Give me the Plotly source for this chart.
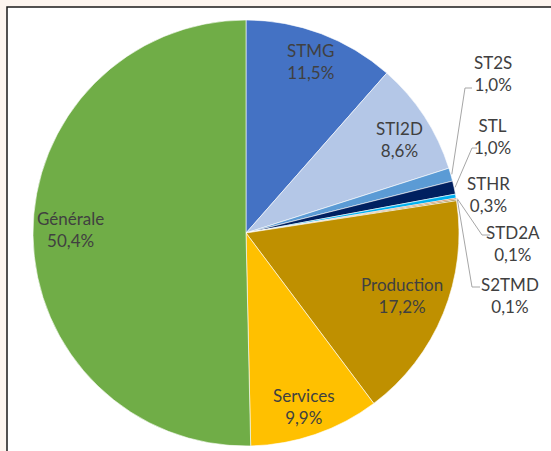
import math
import plotly.graph_objects as go

W, H = 551, 451

labels = ["STMG", "STI2D", "ST2S", "STL", "STHR", "STD2A", "S2TMD",
          "Production", "Services", "Générale"]
values = [11.5, 8.6, 1.0, 1.0, 0.3, 0.1, 0.1, 17.2, 9.9, 50.4]
colors = ["#4472C4", "#B4C7E7", "#5B9BD5", "#002060", "#00B0F0",
          "#C55A11", "#7F6000", "#BF9000", "#FFC000", "#70AD47"]

# label text positions in pixels (centre of the two-line label)
label_pos = {
    "STMG": (310, 62), "STI2D": (399, 139), "ST2S": (493, 73),
    "STL": (492, 137), "STHR": (488, 194), "STD2A": (513, 243),
    "S2TMD": (510, 295), "Production": (402, 295), "Services": (304, 406),
    "Générale": (70, 229),
}
# leader line elbows for the small outside labels: (elbow x, elbow y, end x)
leaders = {
    "ST2S": (465, 88, 472), "STL": (472, 148, 477),
    "STD2A": (482, 235, 490), "S2TMD": (472, 287, 480),
}

cx, cy, rad = 246, 233, 213


def px(x):
    return x / W


def py(y):
    return 1 - y / H


def pct(v):
    return f"{v:.1f}".replace(".", ",") + "%"


fig = go.Figure()
fig.add_trace(go.Pie(
    labels=labels,
    values=values,
    sort=False,
    direction="clockwise",
    rotation=0,
    marker=dict(colors=colors, line=dict(color="white", width=0.6)),
    textinfo="none",
    hoverinfo="label+percent",
    domain=dict(x=[px(cx - rad), px(cx + rad)], y=[py(cy + rad), py(cy - rad)]),
    showlegend=False,
))

# frame around the chart
shapes = [dict(type="rect", xref="paper", yref="paper",
               x0=px(7), x1=1.05, y0=-0.05, y1=py(7),
               line=dict(color="#1a1a1a", width=1.5), fillcolor="white",
               layer="below")]

# leader lines, starting on the slice edge
total = sum(values)
cum = 0
for lab, v in zip(labels, values):
    mid = (cum + v / 2) / total * 2 * math.pi
    cum += v
    if lab in leaders:
        ex, ey, endx = leaders[lab]
        sx = cx + (rad + 1) * math.sin(mid)
        sy = cy - (rad + 1) * math.cos(mid)
        path = (f"M {px(sx)},{py(sy)} L {px(ex)},{py(ey)} L {px(endx)},{py(ey)}")
        shapes.append(dict(type="path", xref="paper", yref="paper", path=path,
                           line=dict(color="#A6A6A6", width=1)))

annotations = []
for lab, v in zip(labels, values):
    x, y = label_pos[lab]
    annotations.append(dict(
        x=px(x), y=py(y), xref="paper", yref="paper",
        text=f"{lab}<br>{pct(v)}", showarrow=False,
        font=dict(family="Lato, Calibri, sans-serif", size=17, color="#404040"),
        align="center", xanchor="center", yanchor="middle",
    ))

fig.update_layout(
    width=W, height=H,
    margin=dict(l=0, r=0, t=0, b=0),
    paper_bgcolor="#FDF5EF",
    plot_bgcolor="white",
    shapes=shapes,
    annotations=annotations,
)

fig.write_html("out.html", config={"displayModeBar": False},
               post_script="document.body.style.margin='0';")
